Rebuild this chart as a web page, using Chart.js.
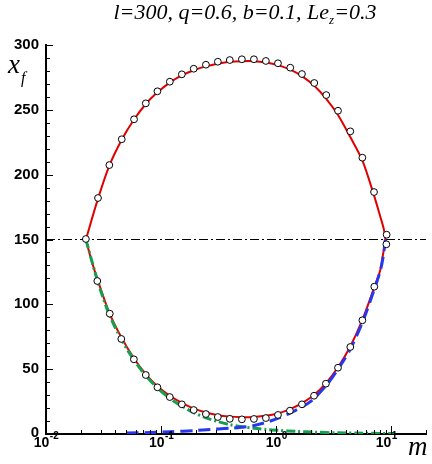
<!DOCTYPE html>
<html><head><meta charset="utf-8">
<script src="https://cdn.jsdelivr.net/npm/chart.js@4.4.1/dist/chart.umd.min.js"></script>
<style>html,body{margin:0;padding:0;background:#fff}#w{width:432px;height:464px}</style>
</head><body><div id="w"><canvas id="c" width="432" height="464"></canvas></div>
<script>
// ---- data ----
const circleUpperM = [0.0222,0.0283,0.0355,0.0455,0.0582,0.0736,0.0929,0.119,0.1514,0.192,0.245,0.311,0.395,0.503,0.640,0.813,1.035,1.324,1.673,2.14,2.72,3.44,4.40,5.60,7.07,9.10];
const circleUpperX = [150.4,182,207.4,227.3,242.7,255,264.3,271.7,277.4,281.7,284.8,287.1,288.4,289,289,287.7,285.9,282.5,277.6,270.7,261.4,249.3,233.4,213.1,186.6,153.7];
const circleLowerM = [0.0279,0.0358,0.0451,0.058,0.0736,0.0929,0.119,0.1514,0.192,0.245,0.311,0.395,0.503,0.640,0.813,1.035,1.315,1.673,2.13,2.70,3.44,4.40,5.60,7.11,9.05];
const circleLowerX = [118,92.8,73.3,57.6,45.5,36,28.5,22.9,18.5,15.4,13.1,11.7,11.3,11.6,12.3,14.7,18.0,22.9,29.5,38.8,51.1,67.1,87.7,113.6,146.3];

const redM = [0.0222,0.0283,0.0355,0.0455,0.0582,0.0736,0.0929,0.119,0.1514,0.192,0.245,0.311,0.395,0.503,0.640,0.813,1.035,1.324,1.673,2.14,2.72,3.44,4.40,5.60,7.07,8.02,8.6,8.87,
              8.7,8.4,8.02,7.07,5.60,4.40,3.44,2.72,2.14,1.673,1.324,1.035,0.813,0.640,0.503,0.395,0.311,0.245,0.192,0.1514,0.119,0.0929,0.0736,0.0582,0.0455,0.0355,0.0283,0.025,0.0222];
const redX = [150,181.5,207,227,242.5,254.5,263.5,271,276.5,280.5,283.5,285.5,287,287.5,287.5,286.5,284.5,281,276,268.5,258.5,246,229,211,184,167.6,158,150,
              144.5,136.7,126.5,112.5,88,67.5,51.5,39.5,30.3,23.8,19.2,15.9,14,13.2,13,13.4,14.5,16.6,19.6,24,29.5,36.8,46.2,58.2,74,93.5,118,133,150];

const greenM = [0.0222,0.0283,0.0355,0.0455,0.0582,0.0736,0.0929,0.119,0.1514,0.192,0.245,0.311,0.395,0.503,0.640,0.813,1.035,1.5,2.14,3.44,5.6,8.0,10.5];
const greenX = [150,117,92,72.5,57,45,35.5,27.5,21.5,16.5,12.5,9.6,7.2,5.6,4.4,3.5,2.8,2.0,1.4,0.9,0.6,0.45,0.35];

const blueM = [0.05,0.08,0.12,0.2,0.267,0.42,0.63,0.89,1.33,1.98,2.72,3.44,4.40,5.60,7.07,8.02,8.5,8.87];
const blueX = [0.7,1.1,1.7,2.7,3.5,4.6,6.4,10,16.3,25,37.5,50,65.5,86,111,126,137,150];

const refM = [0.01,20];
const refX = [150,150];

const yTicks = [0,50,100,150,200,250,300];
const xTickExps = [-2,-1,0,1];

const pts = (a,b)=>a.map((v,i)=>({x:v,y:b[i]}));

const axesPlugin = {
  id:'axesDeco',
  afterDraw(chart){
    const {ctx, chartArea:a, scales:{x,y}} = chart;
    ctx.save();
    ctx.strokeStyle='#000'; ctx.lineWidth=1;
    ctx.beginPath();
    for(let v=0; v<=300; v+=10){
      const py = Math.round(y.getPixelForValue(v))+0.5;
      const len = (v%50===0)?7:4;
      ctx.moveTo(a.left, py); ctx.lineTo(a.left+len, py);
    }
    for(const e of xTickExps.concat([2])){
      for(let k=1;k<=9;k++){
        const v = k*Math.pow(10,e);
        if(v<0.01 || v>20.0001) continue;
        const px = Math.round(x.getPixelForValue(v))+0.5;
        const len = (k===1)?8:4;
        ctx.moveTo(px, a.bottom); ctx.lineTo(px, a.bottom-len);
      }
    }
    ctx.stroke();
    // y labels
    ctx.fillStyle='#000';
    ctx.font='bold 15px "Liberation Sans", Arial, sans-serif';
    ctx.textAlign='right'; ctx.textBaseline='middle';
    for(const v of yTicks){
      ctx.fillText(String(v), a.left-7, y.getPixelForValue(v)+(v===0?-1:0));
    }
    // x labels
    ctx.textAlign='left'; ctx.textBaseline='alphabetic';
    for(const e of xTickExps){
      const px = x.getPixelForValue(Math.pow(10,e));
      ctx.font='bold 14px "Liberation Sans", Arial, sans-serif';
      const w1 = ctx.measureText('10').width;
      ctx.font='bold 10px "Liberation Sans", Arial, sans-serif';
      const es = (e<0?'-':'')+Math.abs(e);
      const w2 = ctx.measureText(es).width;
      const x0 = px-(w1+w2)/2 - (e===1?5:0);
      ctx.font='bold 14px "Liberation Sans", Arial, sans-serif';
      ctx.fillText('10', x0, a.bottom+13);
      ctx.font='bold 10px "Liberation Sans", Arial, sans-serif';
      ctx.fillText(es, x0+w1+0.5, a.bottom+5);
    }
    // title
    const parts = [['l=300, q=0.6, b=0.1, Le','italic 22px "Liberation Serif", serif',0],['z','italic 13px "Liberation Serif", serif',5],['=0.3','italic 22px "Liberation Serif", serif',0]];
    let tw=0;
    for(const p of parts){ctx.font=p[1]; tw+=ctx.measureText(p[0]).width;}
    let tx = 245 - tw/2;
    for(const p of parts){ctx.font=p[1]; ctx.fillText(p[0], tx, 19+p[2]); tx+=ctx.measureText(p[0]).width;}
    // y axis title
    ctx.font='italic 27px "Liberation Serif", serif';
    ctx.fillText('x', 8, 73);
    const wx = ctx.measureText('x').width;
    ctx.font='italic 16px "Liberation Serif", serif';
    ctx.fillText('f', 8+wx+1, 83);
    // x axis title
    ctx.font='italic 27px "Liberation Serif", serif';
    ctx.fillText('m', 408, 455);
    ctx.restore();
  }
};

new Chart(document.getElementById('c'), {
  type:'line',
  data:{datasets:[
    {data:pts(circleUpperM,circleUpperX).concat([{x:NaN,y:NaN}]).concat(pts(circleLowerM,circleLowerX)), showLine:false, pointRadius:3.4, pointBackgroundColor:'#fff', pointBorderColor:'#000', pointBorderWidth:1, order:0},
    {data:pts(blueM,blueX), borderColor:'rgb(40,55,235)', borderWidth:3, borderDash:[12,6], pointRadius:0, tension:0.3, fill:false, order:1},
    {data:pts(greenM,greenX), borderColor:'rgb(20,160,80)', borderWidth:3, borderDash:[9,3,2,3], pointRadius:0, tension:0.3, fill:false, order:2},
    {data:pts(redM,redX), borderColor:'rgb(225,0,0)', borderWidth:2, pointRadius:0, tension:0.3, fill:false, order:3},
    {data:pts(refM,refX), borderColor:'#000', borderWidth:1, borderDash:[9,3,2,3], pointRadius:0, fill:false, order:4}
  ]},
  options:{
    responsive:false, animation:false, devicePixelRatio:1,
    layout:{padding:{left:46,right:6,top:45,bottom:30}},
    plugins:{legend:{display:false}, tooltip:{enabled:false}, title:{display:false}},
    scales:{
      x:{type:'logarithmic', min:0.01, max:20, ticks:{display:false}, grid:{display:false, drawTicks:false}, border:{display:true, color:'#000', width:2}},
      y:{type:'linear', min:0, max:300, ticks:{display:false}, grid:{display:false, drawTicks:false}, border:{display:true, color:'#000', width:2}}
    }
  },
  plugins:[axesPlugin]
});
</script></body></html>
